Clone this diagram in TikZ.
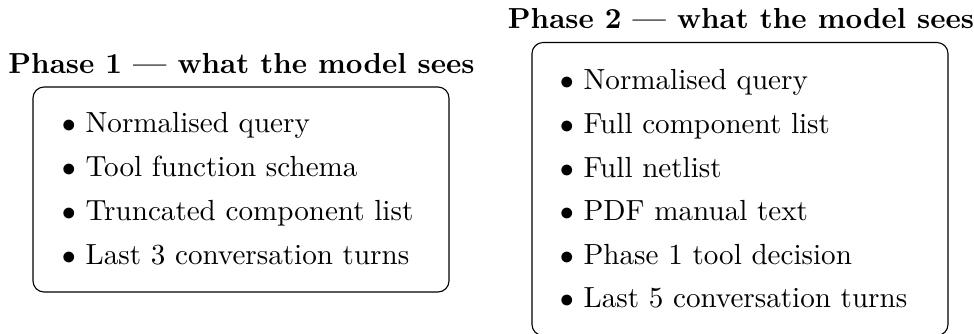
\documentclass[tikz,border=0pt]{standalone}
\usetikzlibrary{positioning,calc}

\begin{document}
\begin{tikzpicture}[
  x=0.01256cm, y=-0.01256cm,
  box/.style={draw, rounded corners=4pt, minimum width=5.225cm, inner sep=0pt},
  title/.style={font=\fontsize{10.35}{12}\selectfont\bfseries, anchor=base},
  item/.style={anchor=base west, inner sep=0pt, font=\fontsize{10.4}{12}\selectfont}
]
\useasboundingbox (0,0) rectangle (974,333);

% the two boxes
\node[box, minimum height=2.575cm] (box1) at (241,189.5) {};
\node[box, minimum height=3.68cm] (box2) at (740,189) {};

\node[title] (t1) at ($(box1.north)+(0.5,-13)$) {Phase 1 --- what the model sees};
\node[title] (t2) at ($(box2.north)+(1,-13)$) {Phase 2 --- what the model sees};

% phase 1 contents
\node[item] (a1) at ($(box1.north west)+(29,46)$) {$\bullet$ Normalised query};
\node[item] (a2) at ($(a1.base west)+(0,44)$) {$\bullet$ Tool function schema};
\node[item] (a3) at ($(a2.base west)+(0,44)$) {$\bullet$ Truncated component list};
\node[item] (a4) at ($(a3.base west)+(0,44)$) {$\bullet$ Last 3 conversation turns};

% phase 2 contents
\node[item] (b1) at ($(box2.north west)+(28,48)$) {$\bullet$ Normalised query};
\node[item] (b2) at ($(b1.base west)+(0,43.6)$) {$\bullet$ Full component list};
\node[item] (b3) at ($(b2.base west)+(0,43.6)$) {$\bullet$ Full netlist};
\node[item] (b4) at ($(b3.base west)+(0,43.6)$) {$\bullet$ PDF manual text};
\node[item] (b5) at ($(b4.base west)+(0,43.6)$) {$\bullet$ Phase 1 tool decision};
\node[item] (b6) at ($(b5.base west)+(0,43.6)$) {$\bullet$ Last 5 conversation turns};

\end{tikzpicture}
\end{document}
